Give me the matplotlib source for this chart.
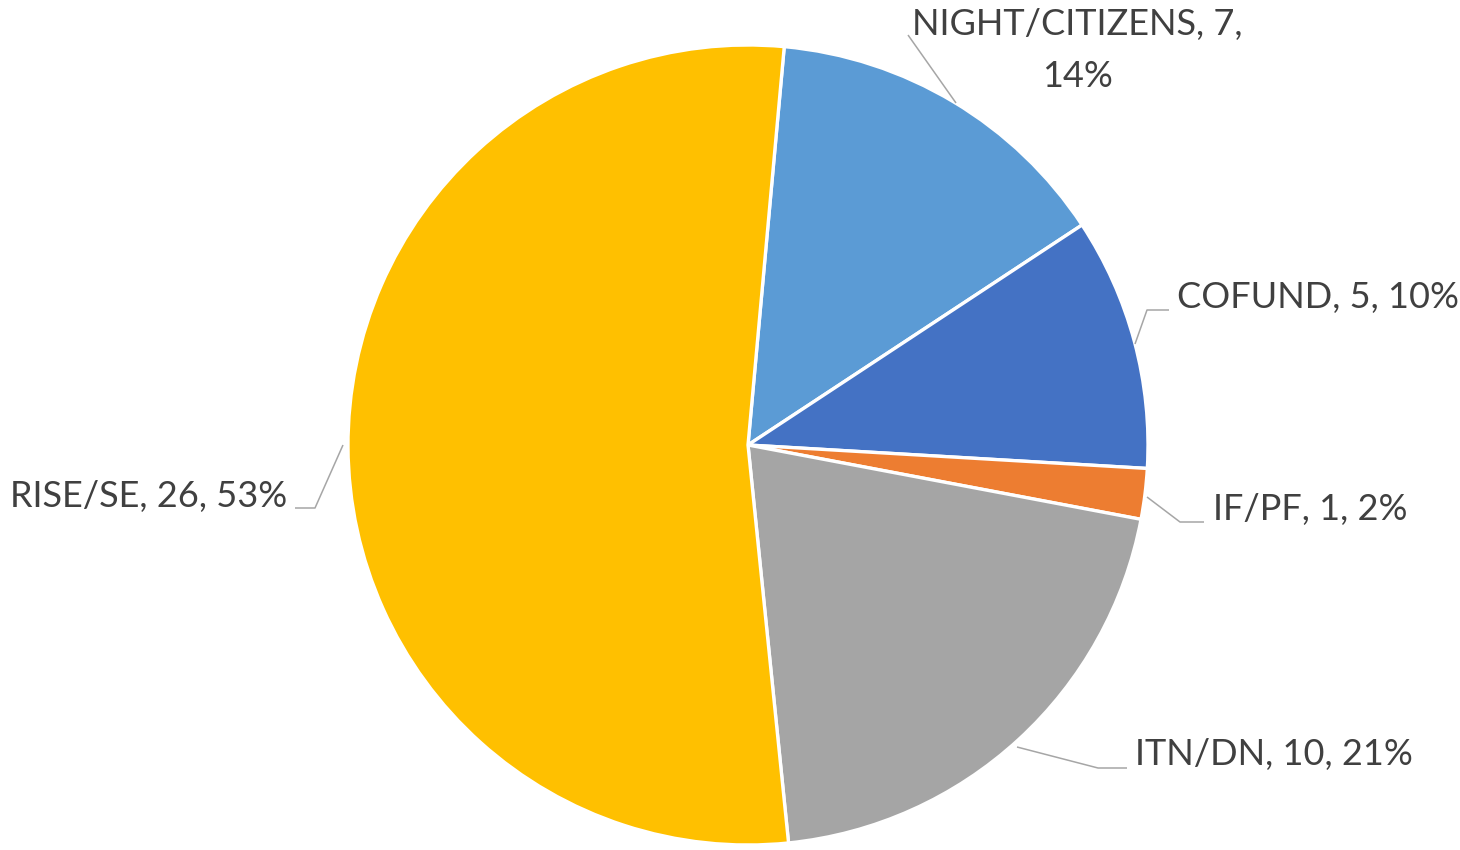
import matplotlib.pyplot as plt

# data
names = ["NIGHT/CITIZENS", "COFUND", "IF/PF", "ITN/DN", "RISE/SE"]
counts = [7, 5, 1, 10, 26]
pct_labels = ["14%", "10%", "2%", "21%", "53%"]
colors = ["#5B9BD5", "#4472C4", "#ED7D31", "#A5A5A5", "#FFC000"]

W, H = 1460, 850
plt.rcParams['font.family'] = ['Lato', 'DejaVu Sans']

fig = plt.figure(figsize=(14.6, 8.5), dpi=100)
ax = fig.add_axes([0, 0, 1, 1])

cx, cy, r = 748, H - 445, 400
ax.pie(counts, colors=colors, startangle=84.8, counterclock=False,
       center=(cx, cy), radius=r, frame=False,
       wedgeprops=dict(edgecolor='white', linewidth=2.4))
ax.set_xlim(0, W)
ax.set_ylim(0, H)
ax.set_aspect('equal')
ax.axis('off')

line_col = '#A6A6A6'
text_col = '#404040'
fs = 26

# leader lines, in pixel coords from top-left
leaders = [
    [(908, 35), (956, 103)],
    [(1135, 344), (1147, 310), (1169, 310)],
    [(1147, 497), (1180, 522), (1204, 522)],
    [(1017, 747), (1098, 768), (1127, 768)],
    [(343, 445), (315, 508), (295, 508)],
]
for pts in leaders:
    ax.plot([p[0] for p in pts], [H - p[1] for p in pts],
            color=line_col, lw=1.1, solid_capstyle='butt')

labels = [f"{n}, {c}, {p}" for n, c, p in zip(names, counts, pct_labels)]

# NIGHT/CITIZENS label wraps onto two lines
ax.text(1077, H - 35, f"{names[0]}, {counts[0]},", fontsize=fs, color=text_col,
        ha='center', va='baseline')
ax.text(1077, H - 87, pct_labels[0], fontsize=fs, color=text_col,
        ha='center', va='baseline')
ax.text(1177, H - 308, labels[1], fontsize=fs, color=text_col, ha='left', va='baseline')
ax.text(1213, H - 520, labels[2], fontsize=fs, color=text_col, ha='left', va='baseline')
ax.text(1135, H - 765, labels[3], fontsize=fs, color=text_col, ha='left', va='baseline')
ax.text(287, H - 507, labels[4], fontsize=fs, color=text_col, ha='right', va='baseline')

fig.savefig('out.png', dpi=100, facecolor='white')
